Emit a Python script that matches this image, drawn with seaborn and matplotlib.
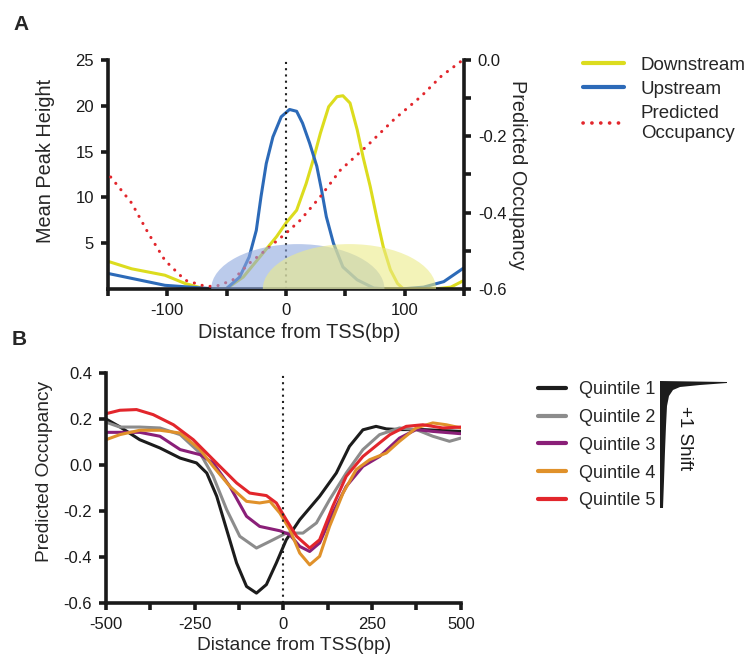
import numpy as np
import pandas as pd
import matplotlib
matplotlib.use("Agg")
import matplotlib.pyplot as plt
from matplotlib.patches import Ellipse
from matplotlib.lines import Line2D
import seaborn as sns

# ---- Panel A data ----
up_x = [-152, -102, -59, -50.5, -39, -31, -25, -21, -16.6, -11, -4, 3, 9, 14, 20, 26, 30, 34, 40, 48,
        60, 74, 85, 97, 116, 133, 151]
up_y = [1.75, 0.4, 0.0, 0.0, 1.3, 3.5, 6.4, 10.1, 13.7, 16.6, 18.8, 19.6, 19.4, 18.1, 15.9, 13.4, 10.8,
        7.9, 5.0, 2.4, 1.0, 0.1, 0.0, 0.0, 0.2, 0.8, 2.4]

down_x = [-152, -130, -102, -85, -68, -50.5, -36, -22, -8, 0, 9, 17, 23, 29, 36, 43, 48, 54, 60, 65,
          71, 77, 82, 88, 94, 99, 125, 139, 151]
down_y = [3.1, 2.2, 1.5, 0.6, 0.0, 0.0, 1.3, 3.5, 5.7, 7.2, 8.6, 11.5, 14.1, 17.0, 19.9, 21.0, 21.1,
          20.3, 17.4, 14.4, 11.2, 7.5, 4.6, 2.1, 0.6, 0.0, 0.0, 0.2, 1.0]

occ_x = [-152, -130, -116, -102, -85, -68, -59, -45, -31, -17, 0, 12, 29, 46, 68, 91, 114, 131, 149]
occ_y = [-0.29, -0.375, -0.454, -0.525, -0.577, -0.593, -0.593, -0.577, -0.533, -0.498, -0.454,
         -0.42, -0.358, -0.288, -0.226, -0.156, -0.095, -0.042, 0.0]

# nucleosome ellipses: centre x, width (bp), height (peak units)
ell_center = [10, 53.5]
ell_width = [146, 146]
ell_height = [9.8, 9.8]
ell_color = ["#8fa9df", "#eceb8a"]

# ---- Panel B data ----
q1_x = [-500, -461, -405, -348, -291, -245, -216, -188, -160, -132, -104, -76, -48, -20, 8, 46, 102,
        149, 186, 224, 261, 290, 327, 393, 500]
q1_y = [0.2, 0.166, 0.11, 0.074, 0.03, 0.009, -0.035, -0.136, -0.281, -0.426, -0.528, -0.557, -0.52,
        -0.426, -0.325, -0.238, -0.136, -0.035, 0.081, 0.153, 0.168, 0.157, 0.154, 0.154, 0.146]
q2_x = [-500, -461, -405, -348, -291, -235, -198, -160, -123, -76, -38, 8, 55, 93, 130, 177, 224, 271,
        327, 374, 421, 468, 500]
q2_y = [0.186, 0.165, 0.165, 0.161, 0.132, 0.052, -0.049, -0.194, -0.31, -0.361, -0.332, -0.296,
        -0.296, -0.252, -0.151, -0.035, 0.067, 0.132, 0.161, 0.154, 0.125, 0.103, 0.117]
q3_x = [-500, -405, -348, -291, -235, -198, -151, -104, -67, -10, 18, 46, 74, 102, 139, 177, 224, 271,
        327, 374, 421, 500]
q3_y = [0.142, 0.142, 0.125, 0.067, 0.045, 0.009, -0.093, -0.223, -0.267, -0.286, -0.303, -0.354,
        -0.376, -0.339, -0.209, -0.093, -0.006, 0.037, 0.117, 0.154, 0.146, 0.136]
q4_x = [-500, -461, -405, -348, -291, -235, -198, -151, -104, -67, -38, -10, 18, 46, 74, 102, 130, 168,
        205, 243, 290, 327, 374, 421, 459, 500]
q4_y = [0.11, 0.132, 0.151, 0.151, 0.139, 0.067, -0.006, -0.093, -0.158, -0.165, -0.158, -0.209,
        -0.281, -0.383, -0.434, -0.397, -0.267, -0.122, -0.02, 0.023, 0.052, 0.103, 0.161, 0.183,
        0.175, 0.161]
q5_x = [-500, -461, -414, -367, -310, -254, -179, -132, -95, -48, -20, 8, 37, 74, 102, 139, 177, 224,
        271, 300, 346, 393, 449, 500]
q5_y = [0.223, 0.238, 0.241, 0.219, 0.175, 0.11, -0.006, -0.078, -0.122, -0.133, -0.165, -0.238,
        -0.31, -0.361, -0.325, -0.18, -0.049, 0.037, 0.096, 0.132, 0.168, 0.175, 0.161, 0.165]

quintile_labels = ["Quintile 1", "Quintile 2", "Quintile 3", "Quintile 4", "Quintile 5"]
quintile_colors = ["#1c1c1c", "#8c8c8c", "#8a1f78", "#e0912a", "#e2262c"]

# "+1 Shift" wedge outline (pixels in its own little box)
shift_x = [0, 67, 67, 40, 20, 13, 9, 7, 6, 5, 4, 3, 0]
shift_y = [0, 1, 2, 4, 6, 9, 15, 25, 45, 70, 100, 127, 127]

sns.set_style("ticks")
plt.rcParams["font.family"] = ["Liberation Sans", "DejaVu Sans"]
plt.rcParams["axes.unicode_minus"] = False

LW_SPINE = 2.6
TICK_FS = 12
LABEL_FS_A = 14.3
LABEL_FS_B = 13.8
LEG_FS = 13.5


def style_axis(ax, sides):
    for s in ["top", "right", "left", "bottom"]:
        ax.spines[s].set_visible(s in sides)
        ax.spines[s].set_linewidth(LW_SPINE)
        ax.spines[s].set_color("#1a1a1a")
    ax.tick_params(which="both", width=LW_SPINE, length=5, labelsize=TICK_FS, pad=5,
                   color="#1a1a1a", labelcolor="#1a1a1a")


fig = plt.figure(figsize=(7.55, 6.56), dpi=100)

# ---------------- Panel A ----------------
axA = fig.add_axes([0.143, 0.5595, 0.4715, 0.349])
sns.lineplot(x=down_x, y=down_y, ax=axA, color="#dcdc1e", linewidth=2.2, sort=False, estimator=None)
sns.lineplot(x=up_x, y=up_y, ax=axA, color="#2c6ab8", linewidth=2.2, sort=False, estimator=None)
axA.axvline(0, color="#222222", linestyle=(0, (1, 2)), linewidth=1.5)
axA.set_xlim(-150, 150)
axA.set_ylim(0, 25)
axA.set_xticks([-100, 0, 100])
axA.set_xticks([-150, -50, 50, 150], minor=True)
axA.set_yticks([5, 10, 15, 20, 25])
axA.set_xlabel("Distance from TSS(bp)", fontsize=LABEL_FS_A)
axA.set_ylabel("Mean Peak Height", fontsize=LABEL_FS_A)
axA.xaxis.set_label_coords(0.538, -0.148)
axA.yaxis.set_label_coords(-0.15, 0.56)
style_axis(axA, ["left", "bottom"])

axA2 = axA.twinx()
sns.lineplot(x=occ_x, y=occ_y, ax=axA2, color="#e2262c", linewidth=2.2, sort=False, estimator=None,
             linestyle=(0, (0.05, 2.6)), dash_capstyle="round")
axA2.set_ylim(-0.6, 0.0)
axA2.set_yticks([-0.6, -0.4, -0.2, 0.0])
axA2.set_yticks([-0.5, -0.3, -0.1], minor=True)
axA2.set_yticklabels(["-0.6", "-0.4", "-0.2", "0.0"])
axA2.set_ylabel("Predicted Occupancy", fontsize=LABEL_FS_A, rotation=270, labelpad=15)
style_axis(axA2, ["right"])

for cx, w, h, c in zip(ell_center, ell_width, ell_height, ell_color):
    e = Ellipse((cx, 0), w, h, transform=axA.transData, facecolor=c, edgecolor="none",
                alpha=0.6, zorder=5)
    e.set_clip_path(axA2.patch)
    axA2.add_patch(e)

handlesA = [Line2D([], [], color="#dcdc1e", lw=3),
            Line2D([], [], color="#2c6ab8", lw=3),
            Line2D([], [], color="#e2262c", lw=2.6, linestyle=(0, (0.05, 2.4)), dash_capstyle="round")]
fig.legend(handlesA, ["Downstream", "Upstream", "Predicted\nOccupancy"], loc="upper left",
           bbox_to_anchor=(0.772, 0.914), frameon=False, fontsize=LEG_FS, handlelength=2.2,
           handletextpad=0.9, labelspacing=0.38, borderpad=0, borderaxespad=0)

# ---------------- Panel B ----------------
axB = fig.add_axes([0.1404, 0.0808, 0.470, 0.3506])
q_x = [q1_x, q2_x, q3_x, q4_x, q5_x]
q_y = [q1_y, q2_y, q3_y, q4_y, q5_y]
for xs, ys, lab, col in zip(q_x, q_y, quintile_labels, quintile_colors):
    sns.lineplot(x=xs, y=ys, ax=axB, color=col, linewidth=2.2, sort=False, estimator=None, label=lab)
axB.axvline(0, color="#222222", linestyle=(0, (1, 2)), linewidth=1.5)
axB.set_xlim(-500, 500)
axB.set_ylim(-0.6, 0.4)
axB.set_xticks([-500, -250, 0, 250, 500])
axB.set_xticks([-375, -125, 125, 375], minor=True)
axB.set_yticks([-0.6, -0.4, -0.2, 0.0, 0.2, 0.4])
axB.set_yticklabels(["-0.6", "-0.4", "-0.2", "0.0", "0.2", "0.4"])
axB.set_xlabel("Distance from TSS(bp)", fontsize=LABEL_FS_B)
axB.set_ylabel("Predicted Occupancy", fontsize=LABEL_FS_B)
axB.xaxis.set_label_coords(0.531, -0.148)
axB.yaxis.set_label_coords(-0.15, 0.57)
style_axis(axB, ["left", "bottom"])
axB.get_legend().remove()

handlesB = [Line2D([], [], color=c, lw=3) for c in quintile_colors]
fig.legend(handlesB, quintile_labels, loc="upper left", bbox_to_anchor=(0.7125, 0.419),
           frameon=False, fontsize=13, handlelength=1.55, handletextpad=0.75,
           labelspacing=0.6, borderpad=0, borderaxespad=0)

# +1 shift wedge
axS = fig.add_axes([660 / 755, 1 - 508 / 656, 67 / 755, 127 / 656])
axS.fill(shift_x, shift_y, color="#1c1c1c", linewidth=0)
axS.set_xlim(0, 67)
axS.set_ylim(127, 0)
axS.axis("off")
fig.text(684 / 755, 1 - 438 / 656, "+1 Shift", rotation=270, ha="center", va="center",
         fontsize=LEG_FS, color="#1a1a1a")

fig.text(0.018, 0.963, "A", fontsize=15, fontweight="bold", va="center")
fig.text(0.015, 0.483, "B", fontsize=15, fontweight="bold", va="center")

fig.savefig("out.png", dpi=100)
